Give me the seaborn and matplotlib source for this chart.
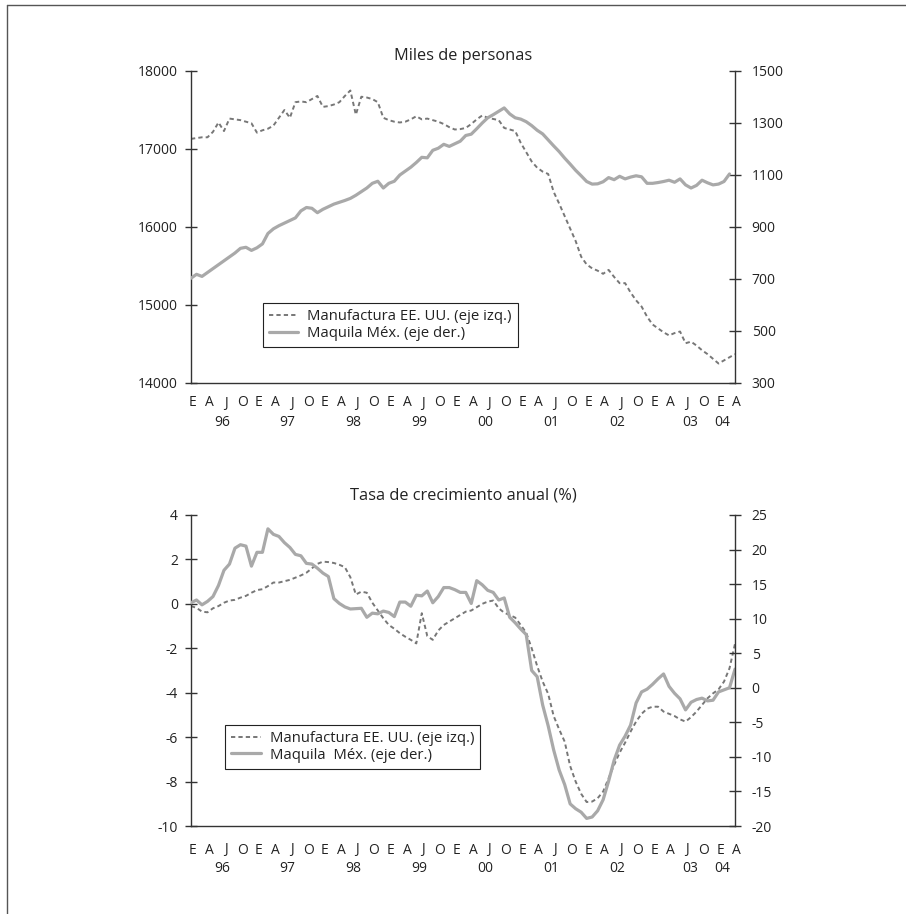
import numpy as np
import pandas as pd
import matplotlib
matplotlib.use("Agg")
import matplotlib.pyplot as plt
import matplotlib.transforms as mtransforms
from matplotlib.lines import Line2D
import seaborn as sns

# ---------------- data ----------------
quarter_letters = ["E", "A", "J", "O"]
year_labels = ["96", "97", "98", "99", "00", "01", "02", "03", "04"]

# Monthly, Jan 1996 - Apr 2004 (thousands of persons)
us_level = [
    17130, 17140, 17150, 17150, 17220, 17340, 17230, 17390, 17380, 17370,
    17350, 17330, 17210, 17240, 17260, 17300, 17400, 17500, 17400, 17600,
    17610, 17600, 17640, 17680, 17540, 17550, 17570, 17600, 17680, 17750,
    17440, 17670, 17660, 17640, 17600, 17400, 17370, 17350, 17340, 17350,
    17380, 17420, 17380, 17390, 17370, 17350, 17320, 17280, 17250, 17255,
    17270, 17320, 17380, 17430, 17400, 17385, 17370, 17270, 17250, 17230,
    17080, 16960, 16840, 16760, 16710, 16680, 16450, 16300, 16140, 15980,
    15820, 15620, 15520, 15470, 15440, 15400, 15450, 15360, 15280, 15280,
    15160, 15060, 14980, 14850, 14750, 14700, 14650, 14610, 14640, 14660,
    14510, 14530, 14480, 14420, 14370, 14310, 14250, 14290, 14330, 14370,
]
mx_level = [
    703, 718, 710, 725, 740, 755, 770, 785, 800, 818,
    822, 810, 820, 835, 875, 893, 905, 915, 925, 935,
    962, 975, 972, 955, 968, 978, 988, 995, 1002, 1010,
    1022, 1036, 1050, 1068, 1076, 1050, 1068, 1076, 1100, 1115,
    1130, 1148, 1168, 1166, 1195, 1203, 1218, 1210, 1220, 1230,
    1252, 1257, 1278, 1300, 1320, 1332, 1345, 1358, 1335, 1320,
    1315, 1305, 1290, 1272, 1258, 1235, 1212, 1190, 1165, 1142,
    1118, 1097, 1075, 1065, 1066, 1074, 1090, 1082, 1095, 1085,
    1092, 1097, 1093, 1068, 1068, 1071, 1075, 1080, 1072, 1085,
    1062, 1050, 1060, 1080, 1070, 1062, 1065, 1075, 1104,
]
# Annual growth rates (%)
us_growth = [
    -0.10, -0.18, -0.35, -0.38, -0.20, -0.10, 0.05, 0.15, 0.18, 0.28,
    0.36, 0.50, 0.62, 0.66, 0.80, 0.96, 0.96, 1.02, 1.08, 1.18,
    1.28, 1.40, 1.60, 1.80, 1.90, 1.88, 1.84, 1.76, 1.65, 1.20,
    0.42, 0.55, 0.50, 0.05, -0.30, -0.65, -0.95, -1.12, -1.32, -1.48,
    -1.62, -1.78, -0.42, -1.45, -1.62, -1.20, -0.95, -0.80, -0.65, -0.50,
    -0.35, -0.30, -0.15, 0.00, 0.10, 0.15, -0.20, -0.40, -0.50, -0.62,
    -0.95, -1.30, -2.00, -2.80, -3.50, -4.05, -5.05, -5.65, -6.20, -7.30,
    -8.00, -8.55, -8.92, -8.90, -8.75, -8.45, -7.85, -7.25, -6.70, -6.25,
    -5.75, -5.30, -4.95, -4.72, -4.63, -4.63, -4.85, -4.95, -5.05, -5.20,
    -5.30, -5.10, -4.85, -4.55, -4.25, -4.03, -3.85, -3.50, -2.90, -1.80,
]
mx_growth = [
    12.3, 12.7, 12.0, 12.5, 13.2, 14.8, 17.0, 17.9, 20.2, 20.7,
    20.5, 17.6, 19.6, 19.6, 23.0, 22.2, 21.9, 21.0, 20.3, 19.3,
    19.1, 18.0, 17.9, 17.3, 16.6, 16.1, 12.9, 12.2, 11.7, 11.4,
    11.45, 11.5, 10.2, 10.8, 10.7, 11.1, 10.9, 10.3, 12.4, 12.4,
    11.8, 13.4, 13.3, 14.0, 12.3, 13.2, 14.5, 14.5, 14.2, 13.8,
    13.8, 12.2, 15.5, 14.9, 14.1, 13.8, 12.7, 13.0, 10.2, 9.4,
    8.5, 7.7, 2.5, 1.6, -2.5, -5.5, -9.0, -11.9, -14.0, -16.8,
    -17.5, -18.0, -18.9, -18.7, -17.8, -16.2, -13.5, -10.5, -8.3, -7.0,
    -5.4, -2.2, -0.6, -0.2, 0.5, 1.3, 2.0, 0.2, -0.8, -1.6,
    -3.2, -2.1, -1.7, -1.5, -1.9, -1.8, -0.6, -0.3, 0.0, 2.7,
]

top_left_ticks = [14000, 15000, 16000, 17000, 18000]
top_right_ticks = [300, 500, 700, 900, 1100, 1300, 1500]
bot_left_ticks = [-10, -8, -6, -4, -2, 0, 2, 4]
bot_right_ticks = [-20, -15, -10, -5, 0, 5, 10, 15, 20, 25]

top_title = "Miles de personas"
bot_title = "Tasa de crecimiento anual (%)"
lab_us = "Manufactura EE. UU. (eje izq.)"
lab_mx_top = "Maquila Méx. (eje der.)"
lab_mx_bot = "Maquila  Méx. (eje der.)"

# ---------------- style ----------------
sns.set_style("white")
plt.rcParams["font.family"] = ["Open Sans", "DejaVu Sans"]
plt.rcParams["axes.unicode_minus"] = False
TXT = "#222222"
AXC = "#333333"
DASH_C = "#777777"
SOLID_C = "#a9a9a9"
W, H = 906, 914

fig = plt.figure(figsize=(W / 100, H / 100), dpi=100)
fig.patch.set_facecolor("white")

# frame lines of the page
fig.add_artist(Line2D([7 / W, 1.0], [1 - 5 / H, 1 - 5 / H], transform=fig.transFigure,
                      color="#555555", lw=1.0))
fig.add_artist(Line2D([7 / W, 7 / W], [0.0, 1 - 5 / H], transform=fig.transFigure,
                      color="#555555", lw=1.0))


def panel(rect, us, mx, lticks, rticks, title, lab_mx, legend_anchor,
          q_y, year_y, title_pad, zero_line=False):
    ax = fig.add_axes(rect)
    ax2 = ax.twinx()
    df_us = pd.DataFrame({"mes": np.arange(len(us)), "valor": us})
    df_mx = pd.DataFrame({"mes": np.arange(len(mx)), "valor": mx})
    if zero_line:
        ax.axhline(0, color="#222222", lw=1.0, zorder=1)
    sns.lineplot(data=df_us, x="mes", y="valor", ax=ax, color=DASH_C, lw=1.4, legend=False)
    sns.lineplot(data=df_mx, x="mes", y="valor", ax=ax2, color=SOLID_C, lw=2.3, legend=False)
    ax.lines[-1].set_dashes((2.2, 1.6))

    ax.set_xlim(0, 99)
    ax.set_ylim(lticks[0], lticks[-1])
    ax2.set_ylim(rticks[0], rticks[-1])
    ax.set_yticks(lticks)
    ax2.set_yticks(rticks)
    for a in (ax, ax2):
        a.set_xlabel("")
        a.set_ylabel("")
        a.set_facecolor("none")
    ax.tick_params(axis="y", direction="inout", length=8, width=1, color=AXC,
                   labelcolor=TXT, labelsize=10, pad=5.5, left=True)
    ax2.tick_params(axis="y", direction="inout", length=8, width=1, color=AXC,
                    labelcolor=TXT, labelsize=10, pad=8, right=True)

    ax.set_xticks([])
    trans = mtransforms.blended_transform_factory(ax.transData, ax.transAxes)
    for k in range(34):
        ax.text(3 * k + 0.3, q_y, quarter_letters[k % 4], transform=trans,
                ha="center", va="center", fontsize=10, color=TXT)
    ypos = [12 * i + 5.6 for i in range(7)] + [90.8, 96.6]
    for lab, xp in zip(year_labels, ypos):
        ax.text(xp, year_y, lab, transform=trans, ha="center", va="center",
                fontsize=10, color=TXT)

    for s in ("top", "right"):
        ax.spines[s].set_visible(False)
    for s in ("top", "left", "bottom"):
        ax2.spines[s].set_visible(False)
    for s in ("left", "bottom"):
        ax.spines[s].set_color(AXC)
        ax.spines[s].set_linewidth(1.0)
    ax2.spines["right"].set_color(AXC)
    ax2.spines["right"].set_linewidth(1.0)

    ax.set_title(title, fontsize=11.8, color=TXT, pad=title_pad)

    handles = [
        Line2D([], [], color=DASH_C, lw=1.4, dashes=(2.2, 1.6)),
        Line2D([], [], color=SOLID_C, lw=2.3),
    ]
    leg = ax2.legend(handles, [lab_us, lab_mx], loc="upper left",
                     bbox_to_anchor=legend_anchor, frameon=True, fancybox=False,
                     edgecolor="#222222", framealpha=1, fontsize=10.7,
                     handlelength=2.0, borderpad=0.4, labelspacing=0.12,
                     handletextpad=0.6, borderaxespad=0)
    leg.get_frame().set_linewidth(0.8)
    for t in leg.get_texts():
        t.set_color(TXT)
    return ax, ax2


panel([191 / W, 1 - 383 / H, 544 / W, 312 / H], us_level, mx_level,
      top_left_ticks, top_right_ticks, top_title, lab_mx_top,
      (0.132, 0.256), q_y=-20 / 312, year_y=-40 / 312, title_pad=8)

panel([191 / W, 1 - 826 / H, 544 / W, 311 / H], us_growth, mx_growth,
      bot_left_ticks, bot_right_ticks, bot_title, lab_mx_bot,
      (0.0625, 0.325), q_y=-24 / 311, year_y=-42 / 311, title_pad=11)

fig.savefig("out.png", dpi=100, facecolor="white")
